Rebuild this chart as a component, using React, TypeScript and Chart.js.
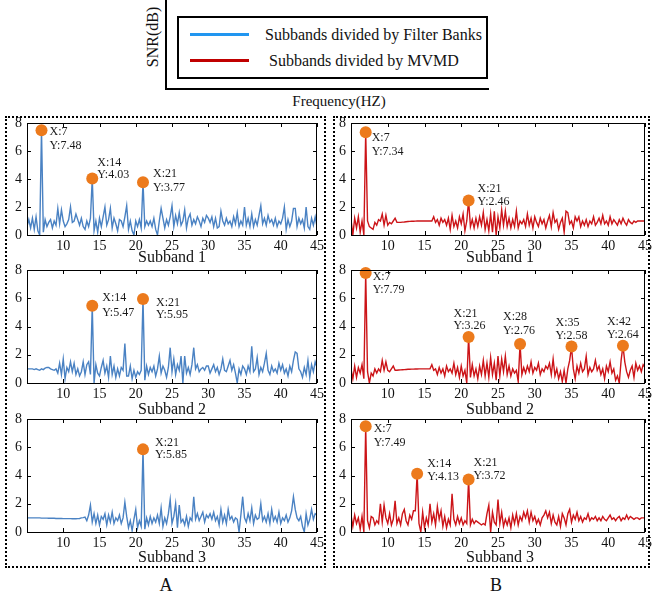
import React, { useEffect, useRef } from "react";
import { Chart, registerables } from "chart.js";

Chart.register(...registerables);

// ---------------- DATA ----------------
const FREQ_START = 5;
const FREQ_STEP = 0.25;
const X_MIN = 5;
const X_MAX = 45;
const Y_MIN = 0;
const Y_MAX = 8;
const X_TICKS = [10, 15, 20, 25, 30, 35, 40, 45];
const Y_TICKS = [0, 2, 4, 6, 8];

const SERIES_NAMES = ["Subbands divided by Filter Banks", "Subbands divided by MVMD"];
const SUBBAND_LABELS = ["Subband 1", "Subband 2", "Subband 3"];
const GROUP_LABELS = ["A", "B"];
const AXIS_Y_TITLE = "SNR(dB)";
const AXIS_X_TITLE = "Frequency(HZ)";

// Filter Banks (A), SNR sampled every 0.25 Hz from 5 to 45 Hz
const fbSubband1 = [
  0.6, 1.1, 0.5, 1.2, 0.4, 1.3, 0.3, 0.0, 7.48, 0.2, 1.1, 0.6, 0.9, 1.1, 0.5, 1.0, 0.7, 1.9, 0.8, 1.8,
  1.0, 0.6, 0.8, 1.1, 2.0, 0.9, 1.0, 1.5, 1.1, 0.7, 1.2, 0.6, 0.4, 1.0, 0.6, 1.2, 4.03, 0.3, 1.0, 0.2,
  1.2, 0.6, 1.3, 2.0, 0.7, 1.1, 1.9, 0.5, 1.2, 0.8, 0.3, 1.1, 1.0, 0.6, 1.3, 2.1, 0.4, 1.0, 0.3, 0.0,
  1.0, 0.6, 1.1, 0.5, 3.77, 0.6, 1.0, 0.7, 1.0, 0.6, 1.2, 0.4, 0.0, 1.0, 1.9, 1.2, 0.5, 1.1, 0.7, 1.3,
  2.1, 0.6, 1.4, 0.8, 1.6, 0.7, 1.0, 1.8, 0.5, 1.2, 1.5, 0.7, 1.1, 0.8, 1.3, 1.0, 0.6, 1.2, 0.9, 1.4,
  1.2, 0.9, 1.3, 0.6, 1.2, 0.5, 0.6, 1.7, 1.0, 0.7, 1.2, 0.8, 1.0, 0.6, 1.3, 0.8, 1.6, 0.6, 1.0, 0.7,
  2.0, 0.7, 1.2, 0.6, 1.5, 0.6, 1.1, 0.7, 1.4, 2.1, 0.8, 1.2, 0.7, 1.4, 0.9, 1.1, 0.7, 1.2, 0.6, 1.0,
  0.8, 1.2, 2.0, 0.4, 1.1, 0.6, 1.0, 1.9, 1.9, 0.6, 1.2, 0.8, 1.1, 0.5, 2.0, 0.6, 0.4, 1.2, 0.7, 1.3,
  0.6,
];
const fbSubband2 = [
  1.0, 1.0, 1.0, 1.0, 0.95, 1.0, 0.95, 0.9, 1.0, 0.95, 1.05, 1.1, 1.1, 1.0, 0.95, 0.9, 1.0, 0.7, 1.4, 0.6,
  1.7, 0.3, 1.1, 0.8, 1.5, 0.8, 1.4, 0.6, 1.0, 0.5, 0.8, 1.5, 0.6, 1.3, 1.5, 0.6, 5.47, 0.0, 1.3, 0.7,
  0.5, 1.1, 1.6, 0.7, 1.2, 0.4, 1.9, 0.6, 1.2, 0.4, 1.0, 0.5, 1.1, 0.9, 2.8, 0.5, 0.5, 1.2, 0.3, 0.9,
  0.4, 0.8, 0.6, 0.9, 5.95, 0.2, 1.2, 0.6, 1.1, 0.8, 1.2, 0.5, 1.0, 1.9, 0.7, 1.2, 0.9, 0.4, 1.1, 2.5,
  0.8, 1.7, 0.6, 1.3, 0.9, 1.9, 0.0, 1.9, 0.7, 1.1, 0.6, 1.3, 2.5, 1.0, 1.3, 0.8, 1.0, 1.1, 0.9, 1.2,
  1.2, 0.7, 1.0, 1.3, 0.8, 1.1, 0.6, 1.0, 1.7, 0.9, 0.8, 1.2, 1.6, 0.9, 1.3, 0.7, 0.0, 1.0, 0.6, 1.2,
  1.0, 0.6, 1.2, 0.8, 2.6, 0.8, 1.0, 1.8, 0.6, 1.1, 0.8, 1.4, 2.1, 0.9, 0.6, 1.2, 0.8, 1.0, 0.7, 1.4,
  0.9, 1.3, 0.7, 1.0, 0.5, 1.2, 0.8, 1.6, 2.2, 2.1, 1.0, 0.8, 0.4, 1.1, 0.6, 1.6, 0.4, 1.3, 0.8, 1.5,
  1.1,
];
const fbSubband3 = [
  1.0, 1.0, 1.0, 1.0, 1.0, 1.0, 1.0, 1.0, 0.98, 0.98, 0.98, 0.98, 0.97, 0.97, 0.97, 0.97, 0.96, 0.96, 0.96, 0.96,
  0.95, 0.95, 0.95, 0.95, 0.95, 0.94, 0.94, 0.94, 0.95, 0.96, 1.0, 1.02, 1.05, 0.8, 1.2, 1.9, 0.7, 1.3, 0.6, 1.2,
  0.5, 1.1, 0.9, 1.3, 0.5, 1.2, 0.7, 1.4, 0.6, 1.0, 0.8, 1.2, 0.6, 1.0, 2.1, 1.1, 0.3, 0.8, 0.1, 0.9,
  1.6, 0.3, 0.8, 0.4, 5.85, 0.2, 1.0, 0.5, 1.1, 0.6, 1.0, 0.7, 1.2, 0.6, 1.7, 0.4, 1.0, 0.6, 1.3, 2.3,
  0.6, 1.1, 2.0, 0.3, 1.9, 0.7, 0.9, 0.5, 1.1, 0.4, 1.0, 0.8, 2.5, 0.9, 1.3, 0.8, 1.1, 1.4, 0.7, 1.2,
  1.0, 1.3, 0.9, 1.4, 0.8, 1.1, 0.5, 1.6, 0.7, 1.2, 0.6, 1.6, 0.9, 1.1, 0.7, 1.0, 0.9, 0.0, 1.2, 2.5,
  1.0, 0.7, 1.3, 0.8, 1.7, 0.6, 1.2, 0.9, 1.0, 2.0, 0.8, 1.1, 0.7, 1.3, 0.6, 1.6, 0.8, 1.1, 0.7, 1.4,
  0.6, 1.0, 0.8, 1.2, 0.7, 1.0, 1.5, 2.5, 1.6, 1.0, 0.8, 1.1, 0.4, 0.0, 1.3, 0.5, 0.9, 1.6, 0.9, 1.3,
  1.2,
];

// MVMD (B)
const mvmdSubband1 = [
  1.1, 0.0, 1.2, 0.5, 1.3, 0.2, 1.0, 0.0, 7.34, 1.0, 0.6, 0.5, 0.4, 0.9, 0.7, 1.1, 1.0, 1.5, 0.7, 1.4,
  0.7, 0.9, 0.8, 1.0, 1.2, 0.9, 0.9, 0.9, 0.92, 0.93, 0.95, 0.96, 0.97, 0.98, 0.98, 0.99, 1.0, 1.0, 1.0, 1.0,
  1.0, 1.0, 1.0, 1.0, 1.0, 1.3, 0.9, 1.1, 0.7, 1.2, 0.9, 1.1, 0.7, 1.2, 0.4, 1.4, 0.6, 1.0, 0.5, 1.3,
  0.8, 1.5, 0.3, 1.0, 2.46, 0.6, 1.1, 0.5, 1.2, 0.6, 1.3, 0.7, 1.6, 0.4, 1.1, 0.3, 1.5, 0.2, 1.7, 0.0,
  1.3, 0.5, 1.8, 0.7, 1.7, 0.6, 1.2, 0.5, 1.1, 0.6, 1.7, 0.5, 1.0, 0.8, 1.1, 0.6, 1.5, 0.7, 1.2, 0.5,
  1.3, 0.9, 0.6, 1.2, 0.8, 1.1, 0.5, 1.0, 1.4, 0.6, 1.6, 0.9, 1.1, 0.4, 0.9, 1.2, 0.2, 1.7, 1.6, 0.8,
  1.0, 0.5, 1.3, 1.0, 1.3, 0.6, 1.0, 0.7, 1.1, 0.6, 1.0, 0.8, 1.3, 0.7, 0.9, 1.2, 0.8, 1.4, 0.8, 1.0,
  0.7, 1.3, 0.8, 1.1, 0.9, 0.7, 1.1, 0.8, 1.2, 0.9, 0.7, 1.1, 0.9, 0.8, 1.0, 0.9, 1.0, 1.0, 1.0, 1.0,
  1.0,
];
const mvmdSubband2 = [
  1.0, 0.3, 1.2, 0.4, 1.1, 0.7, 1.3, 0.3, 7.79, 0.8, 0.0, 0.7, 0.5, 1.0, 0.7, 1.0, 0.8, 1.6, 0.9, 1.5,
  0.9, 0.8, 1.0, 1.2, 0.9, 0.9, 0.92, 0.93, 0.94, 0.95, 0.96, 0.97, 0.97, 0.98, 0.98, 0.99, 0.99, 1.0, 1.0, 1.0,
  1.0, 1.0, 1.0, 1.0, 1.3, 0.9, 1.0, 0.6, 1.1, 0.7, 1.0, 0.5, 1.2, 0.8, 1.0, 0.7, 1.4, 0.6, 1.1, 0.4,
  1.2, 0.5, 0.9, 0.0, 3.26, 0.4, 1.3, 0.5, 1.0, 0.3, 1.2, 0.6, 1.6, 0.5, 1.4, 0.4, 1.8, 0.6, 1.4, 0.2,
  1.9, 0.5, 1.7, 0.8, 1.9, 0.6, 1.2, 0.5, 1.0, 0.7, 0.9, 0.1, 2.76, 0.6, 1.1, 0.7, 1.2, 0.8, 1.5, 0.7,
  1.1, 0.9, 1.4, 0.6, 1.0, 0.8, 1.2, 1.0, 1.4, 0.6, 1.7, 0.5, 1.0, 0.3, 0.8, 0.1, 0.9, 0.0, 1.0, 1.6,
  2.58, 1.0, 0.3, 1.2, 0.7, 1.4, 0.8, 1.0, 1.9, 0.6, 1.1, 0.8, 1.0, 1.6, 0.9, 1.2, 0.6, 1.0, 0.3, 1.2,
  0.8, 1.5, 0.7, 1.0, 0.2, 0.5, 0.0, 1.6, 2.64, 1.5, 0.8, 0.4, 0.9, 1.2, 0.4, 1.4, 0.9, 1.2, 0.8, 1.3,
  1.1,
];
const mvmdSubband3 = [
  1.2, 0.4, 1.2, 0.6, 1.0, 0.2, 1.1, 0.0, 7.49, 0.8, 0.3, 1.1, 1.0, 0.5, 0.8, 0.6, 2.0, 0.7, 1.9, 1.0,
  0.6, 1.3, 0.5, 0.9, 2.2, 0.6, 1.0, 0.5, 1.3, 1.6, 0.8, 0.5, 1.2, 0.9, 1.5, 1.5, 4.13, 0.6, 0.0, 1.4,
  0.3, 1.0, 0.5, 2.0, 0.7, 1.3, 0.5, 1.8, 0.9, 1.5, 0.4, 1.1, 0.3, 0.9, 0.5, 2.7, 0.9, 0.5, 1.1, 0.6,
  1.0, 0.5, 0.8, 0.6, 3.72, 0.5, 0.9, 0.6, 0.8, 0.7, 0.6, 0.5, 0.6, 0.5, 1.3, 1.9, 0.0, 1.4, 0.7, 0.5,
  2.3, 0.6, 1.4, 0.4, 0.9, 0.5, 1.0, 0.3, 1.2, 0.6, 1.3, 0.5, 1.1, 0.8, 1.4, 1.0, 1.5, 0.7, 1.4, 0.8,
  1.1, 0.6, 0.9, 0.5, 1.0, 1.2, 1.5, 1.0, 1.4, 0.6, 1.2, 0.7, 0.5, 1.1, 0.4, 1.3, 1.0, 0.5, 1.3, 1.6,
  0.7, 1.2, 0.9, 1.4, 0.8, 1.1, 0.7, 1.0, 0.9, 1.3, 0.8, 1.0, 0.9, 1.1, 0.8, 1.0, 0.8, 1.1, 0.9, 0.8,
  1.0, 1.2, 0.9, 1.0, 0.8, 1.0, 1.1, 0.8, 1.0, 0.9, 1.2, 0.9, 1.1, 1.0, 0.9, 1.0, 1.0, 0.9, 1.0, 1.0,
  1.0,
];

// Marked peaks [frequency, SNR]
const fbPeaks1 = [[7, 7.48], [14, 4.03], [21, 3.77]];
const fbPeaks2 = [[14, 5.47], [21, 5.95]];
const fbPeaks3 = [[21, 5.85]];
const mvmdPeaks1 = [[7, 7.34], [21, 2.46]];
const mvmdPeaks2 = [[7, 7.79], [21, 3.26], [28, 2.76], [35, 2.58], [42, 2.64]];
const mvmdPeaks3 = [[7, 7.49], [14, 4.13], [21, 3.72]];

// ---------------- LAYOUT / STYLE ----------------
const FONT = '"Liberation Serif", "Times New Roman", serif';
const BLUE = "#4a82c3";
const RED = "#cc1418";
const ORANGE = "#ec7a1c";
const LEGEND_BLUE = "#2196f0";
const LEGEND_RED = "#c00000";

const YW = 24; // y axis width
const XH = 22; // x axis height
const PAD_T = 16;
const PAD_R = 16;

const PANEL_TOPS = [123, 270, 419];
const PANEL_HEIGHTS = [112, 113, 113];
const LEFT_PLOT = { left: 27, width: 290 };
const RIGHT_PLOT = { left: 351, width: 294 };

// label offsets [dx, dyLine1, dyLine2] relative to marker
const fbOffsets1 = [[8, 2, 16], [5, -16, -4], [10, -8, 6]];
const fbOffsets2 = [[10, -8, 7], [13, 4, 16]];
const fbOffsets3 = [[12, -7, 5]];
const mvmdOffsets1 = [[6, 6, 20], [9, -12, 1]];
const mvmdOffsets2 = [[7, 4, 17], [-15, -23, -11], [-17, -27, -13], [-16, -24, -11], [-16, -24, -11]];
const mvmdOffsets3 = [[8, 3, 17], [10, -10, 3], [5, -17, -4]];

type PanelProps = {
  values: number[];
  color: string;
  peaks: number[][];
  offsets: number[][];
  left: number;
  top: number;
  width: number;
  height: number;
};

function Panel({ values, color, peaks, offsets, left, top, width, height }: PanelProps) {
  const ref = useRef<HTMLCanvasElement>(null);
  const cw = YW + width + PAD_R;
  const ch = PAD_T + height + XH;

  useEffect(() => {
    const points = values.map((v, i) => ({ x: FREQ_START + i * FREQ_STEP, y: v }));
    const framePlugin = {
      id: "frame",
      afterDatasetsDraw(chart: any) {
        const { ctx, chartArea: a, scales } = chart;
        const xs = scales.x;
        const ys = scales.y;
        ctx.save();
        ctx.strokeStyle = "#000";
        ctx.lineWidth = 1;
        ctx.strokeRect(Math.round(a.left) + 0.5, Math.round(a.top) + 0.5, Math.round(a.right - a.left) - 1, Math.round(a.bottom - a.top));
        ctx.beginPath();
        const TL = 4;
        X_TICKS.forEach((v) => {
          const px = Math.round(xs.getPixelForValue(v)) + 0.5;
          ctx.moveTo(px, a.bottom);
          ctx.lineTo(px, a.bottom - TL);
          ctx.moveTo(px, a.top);
          ctx.lineTo(px, a.top + TL);
        });
        Y_TICKS.forEach((v) => {
          const py = Math.round(ys.getPixelForValue(v)) + 0.5;
          ctx.moveTo(a.left, py);
          ctx.lineTo(a.left + TL, py);
          ctx.moveTo(a.right, py);
          ctx.lineTo(a.right - TL, py);
        });
        ctx.stroke();
        ctx.restore();
      },
      afterDraw(chart: any) {
        const { ctx, scales } = chart;
        ctx.save();
        ctx.font = `12px ${FONT}`;
        ctx.fillStyle = "#1a1a1a";
        ctx.textBaseline = "middle";
        ctx.textAlign = "left";
        peaks.forEach(([x, y], i) => {
          const px = scales.x.getPixelForValue(x);
          const py = scales.y.getPixelForValue(y);
          const [dx, d1, d2] = offsets[i];
          ctx.fillText(`X:${x}`, px + dx, py + d1);
          ctx.fillText(`Y:${y.toFixed(2)}`, px + dx, py + d2);
        });
        ctx.restore();
      },
    };

    const chart = new Chart(ref.current as HTMLCanvasElement, {
      type: "line",
      data: {
        datasets: [
          {
            type: "scatter",
            data: peaks.map(([x, y]) => ({ x, y })),
            pointRadius: 6,
            pointBackgroundColor: ORANGE,
            pointBorderColor: ORANGE,
            pointBorderWidth: 0,
            clip: false,
            order: 0,
          } as any,
          {
            type: "line",
            data: points,
            borderColor: color,
            borderWidth: 1.4,
            pointRadius: 0,
            tension: 0,
            fill: false,
            order: 1,
          } as any,
        ],
      },
      options: {
        animation: false,
        responsive: false,
        maintainAspectRatio: false,
        devicePixelRatio: 1,
        layout: { padding: { top: PAD_T, right: PAD_R, left: 0, bottom: 0 } },
        plugins: { legend: { display: false }, tooltip: { enabled: false }, title: { display: false } },
        scales: {
          x: {
            type: "linear",
            min: X_MIN,
            max: X_MAX,
            afterBuildTicks: (s: any) => {
              s.ticks = X_TICKS.map((v) => ({ value: v }));
            },
            afterFit: (s: any) => {
              s.height = XH;
            },
            grid: { display: false, drawTicks: false },
            border: { display: false },
            ticks: { color: "#111", font: { family: FONT, size: 14 }, padding: 3, maxRotation: 0, autoSkip: false },
          },
          y: {
            type: "linear",
            min: Y_MIN,
            max: Y_MAX,
            afterBuildTicks: (s: any) => {
              s.ticks = Y_TICKS.map((v) => ({ value: v }));
            },
            afterFit: (s: any) => {
              s.width = YW;
            },
            grid: { display: false, drawTicks: false },
            border: { display: false },
            ticks: { color: "#111", font: { family: FONT, size: 14 }, padding: 5, autoSkip: false },
          },
        },
      } as any,
      plugins: [framePlugin],
    });
    return () => chart.destroy();
  }, []);

  return (
    <canvas
      ref={ref}
      width={cw}
      height={ch}
      style={{ position: "absolute", left: left - YW, top: top - PAD_T, width: cw, height: ch }}
    />
  );
}

const textStyle = (size: number): React.CSSProperties => ({
  position: "absolute",
  fontFamily: FONT,
  fontSize: size,
  color: "#111",
  whiteSpace: "nowrap",
  lineHeight: 1,
});

export default function App() {
  const fb = [fbSubband1, fbSubband2, fbSubband3];
  const mv = [mvmdSubband1, mvmdSubband2, mvmdSubband3];
  const fbP = [fbPeaks1, fbPeaks2, fbPeaks3];
  const mvP = [mvmdPeaks1, mvmdPeaks2, mvmdPeaks3];
  const fbO = [fbOffsets1, fbOffsets2, fbOffsets3];
  const mvO = [mvmdOffsets1, mvmdOffsets2, mvmdOffsets3];
  const subLabelY = [257, 409, 557];

  return (
    <div style={{ position: "absolute", left: 0, top: 0, width: 652, height: 598, overflow: "hidden", background: "#fff" }}>
      {/* header axes + legend */}
      <div style={{ position: "absolute", left: 165, top: 0, width: 2, height: 90, background: "#000" }} />
      <div style={{ position: "absolute", left: 165, top: 88, width: 324, height: 2, background: "#000" }} />
      <div style={{ ...textStyle(16), left: 153, top: 37, transform: "translate(-50%,-50%) rotate(-90deg)" }}>{AXIS_Y_TITLE}</div>
      <div style={{ ...textStyle(15), left: 339, top: 101, transform: "translate(-50%,-50%)" }}>{AXIS_X_TITLE}</div>
      <div style={{ position: "absolute", left: 177, top: 16, width: 307, height: 59, border: "2px solid #000" }} />
      <div style={{ position: "absolute", left: 190, top: 33, width: 59, height: 3, background: LEGEND_BLUE }} />
      <div style={{ position: "absolute", left: 190, top: 59, width: 59, height: 3, background: LEGEND_RED }} />
      <div style={{ ...textStyle(16), left: 265, top: 35, transform: "translateY(-50%)" }}>{SERIES_NAMES[0]}</div>
      <div style={{ ...textStyle(16), left: 269, top: 61, transform: "translateY(-50%)" }}>{SERIES_NAMES[1]}</div>

      {/* dotted group boxes */}
      <div style={{ position: "absolute", left: 5, top: 116, width: 317, height: 448, border: "2px dotted #000" }} />
      <div style={{ position: "absolute", left: 333, top: 116, width: 313, height: 448, border: "2px dotted #000" }} />

      {[0, 1, 2].map((i) => (
        <Panel
          key={"fb" + i}
          values={fb[i]}
          color={BLUE}
          peaks={fbP[i]}
          offsets={fbO[i]}
          left={LEFT_PLOT.left}
          width={LEFT_PLOT.width}
          top={PANEL_TOPS[i]}
          height={PANEL_HEIGHTS[i]}
        />
      ))}
      {[0, 1, 2].map((i) => (
        <Panel
          key={"mv" + i}
          values={mv[i]}
          color={RED}
          peaks={mvP[i]}
          offsets={mvO[i]}
          left={RIGHT_PLOT.left}
          width={RIGHT_PLOT.width}
          top={PANEL_TOPS[i]}
          height={PANEL_HEIGHTS[i]}
        />
      ))}

      {[0, 1, 2].map((i) => (
        <React.Fragment key={"sl" + i}>
          <div style={{ ...textStyle(16), left: 172, top: subLabelY[i], transform: "translate(-50%,-50%)" }}>{SUBBAND_LABELS[i]}</div>
          <div style={{ ...textStyle(16), left: 500, top: subLabelY[i], transform: "translate(-50%,-50%)" }}>{SUBBAND_LABELS[i]}</div>
        </React.Fragment>
      ))}

      <div style={{ ...textStyle(18), left: 166, top: 585, transform: "translate(-50%,-50%)" }}>{GROUP_LABELS[0]}</div>
      <div style={{ ...textStyle(18), left: 496, top: 585, transform: "translate(-50%,-50%)" }}>{GROUP_LABELS[1]}</div>
    </div>
  );
}
